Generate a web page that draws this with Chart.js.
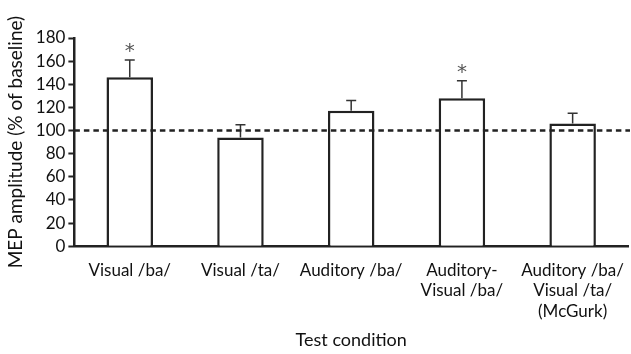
<!DOCTYPE html>
<html>
<head>
<meta charset="utf-8">
<script src="https://cdn.jsdelivr.net/npm/chart.js@4"></script>
<style>
  html, body { margin: 0; padding: 0; background: #fff; }
  #wrap { width: 631px; height: 354px; position: relative; }
</style>
</head>
<body>
<div id="wrap"><canvas id="chart"></canvas></div>
<script>
const conditions = [
    ['Visual /ba/'],
    ['Visual /ta/'],
    ['Auditory /ba/'],
    ['Auditory-', 'Visual /ba/'],
    ['Auditory /ba/', 'Visual /ta/', '(McGurk)']
];
const mepAmplitude = [146, 94, 117, 128, 106];
const mepError = [15, 11, 9, 15, 9];
const significant = [true, false, false, true, false];
const baseline = 100;
const yTicks = [0, 20, 40, 60, 80, 100, 120, 140, 160, 180];

const ink = '#222';
const fontFamily = 'Lato, "Open Sans", sans-serif';

// upper error bars + asterisks
const errorBarPlugin = {
    id: 'errorBars',
    afterDatasetsDraw(chart) {
        const ctx = chart.ctx;
        const y = chart.scales.y;
        const meta = chart.getDatasetMeta(0);
        ctx.save();
        meta.data.forEach((bar, i) => {
            const top = y.getPixelForValue(mepAmplitude[i] + mepError[i]);
            const base = y.getPixelForValue(mepAmplitude[i]);
            ctx.strokeStyle = '#333';
            ctx.lineWidth = 1.5;
            ctx.beginPath();
            ctx.moveTo(bar.x, base);
            ctx.lineTo(bar.x, top);
            ctx.moveTo(bar.x - 5, top);
            ctx.lineTo(bar.x + 5, top);
            ctx.stroke();
            if (significant[i]) {
                ctx.fillStyle = '#555';
                ctx.font = '20px "DejaVu Sans", sans-serif';
                ctx.textAlign = 'center';
                ctx.textBaseline = 'middle';
                ctx.fillText('*', bar.x, top - 8);
            }
        });
        ctx.restore();
    }
};

// dashed baseline at 100 %
const baselinePlugin = {
    id: 'baselineLine',
    afterDatasetsDraw(chart) {
        const ctx = chart.ctx;
        const area = chart.chartArea;
        const yPix = chart.scales.y.getPixelForValue(baseline);
        ctx.save();
        ctx.strokeStyle = ink;
        ctx.lineWidth = 2.5;
        ctx.setLineDash([5.5, 4]);
        ctx.beginPath();
        ctx.moveTo(area.left, yPix);
        ctx.lineTo(area.right + 2, yPix);
        ctx.stroke();
        ctx.restore();
    }
};

new Chart(document.getElementById('chart'), {
    type: 'bar',
    data: {
        labels: conditions,
        datasets: [{
            data: mepAmplitude,
            backgroundColor: '#fff',
            borderColor: ink,
            borderWidth: 2.5,
            borderSkipped: 'bottom',
            barPercentage: 0.42,
            categoryPercentage: 1
        }]
    },
    options: {
        responsive: true,
        maintainAspectRatio: false,
        animation: false,
        layout: { padding: { top: 38, right: 3, left: 4, bottom: 3 } },
        plugins: {
            legend: { display: false },
            tooltip: { enabled: false }
        },
        scales: {
            x: {
                grid: { display: false },
                border: { display: true, color: ink, width: 2.5 },
                ticks: {
                    color: '#111',
                    font: { family: fontFamily, size: 17 },
                    maxRotation: 0,
                    autoSkip: false,
                    padding: 6
                },
                title: {
                    display: true,
                    text: 'Test condition',
                    color: '#111',
                    font: { family: fontFamily, size: 18 },
                    padding: { top: 2, bottom: 0 }
                }
            },
            y: {
                min: 0,
                max: 180,
                afterBuildTicks: (scale) => {
                    scale.ticks = yTicks.map(v => ({ value: v }));
                },
                grid: {
                    display: true,
                    drawOnChartArea: false,
                    drawTicks: true,
                    tickLength: 6,
                    tickWidth: 2,
                    tickColor: ink
                },
                border: { display: true, color: ink, width: 2.5 },
                ticks: {
                    color: '#111',
                    font: { family: fontFamily, size: 17 },
                    autoSkip: false,
                    padding: 3
                },
                title: {
                    display: true,
                    text: 'MEP amplitude (% of baseline)',
                    color: '#111',
                    font: { family: fontFamily, size: 19 },
                    padding: { top: 0, bottom: 6 }
                }
            }
        }
    },
    plugins: [errorBarPlugin, baselinePlugin]
});
</script>
</body>
</html>
